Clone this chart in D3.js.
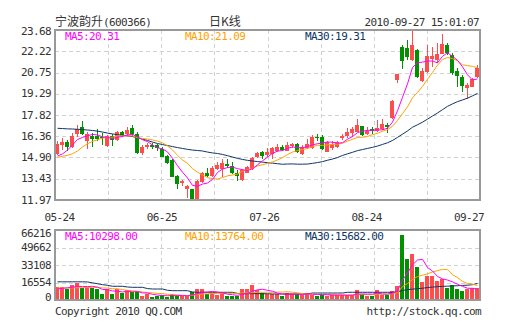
<!DOCTYPE html>
<html>
<head>
<meta charset="utf-8">
<script src="https://cdn.jsdelivr.net/npm/d3@7/dist/d3.min.js"></script>
<style>
  html, body { margin: 0; padding: 0; background: #fff; }
  svg { display: block; }
  text { font-family: "DejaVu Sans Mono", "Liberation Mono", monospace; font-size: 11px; letter-spacing: -0.6px; fill: #333; }
  .cjk { font-family: "Noto Sans CJK SC", sans-serif; font-size: 12px; letter-spacing: 0; }
</style>
</head>
<body>
<svg id="chart" width="505" height="330"></svg>
<script>
// ---- daily K-line data, 宁波韵升 (600366), 2010-05-24 .. 2010-09-27 ----
const opens = [15.14,15.76,15.94,15.64,16.52,17.00,16.00,16.38,16.38,16.34,15.69,16.41,16.07,16.63,16.52,16.93,16.55,15.23,15.59,15.78,
  15.74,15.50,15.00,14.73,13.62,13.12,12.73,12.73,12.04,13.23,13.81,13.64,14.11,14.11,14.43,14.31,13.81,13.35,13.85,14.08,
  14.91,15.26,15.04,15.14,15.35,15.64,15.37,15.71,15.83,15.14,15.53,15.53,16.29,16.29,15.30,15.57,15.60,16.22,16.40,16.61,
  16.67,17.07,16.50,16.86,16.72,16.84,17.14,17.60,20.24,22.53,22.42,21.61,22.30,20.19,20.76,21.68,21.61,22.03,22.65,21.96,
  20.88,20.46,19.66,19.77,20.42];
const highs = [16.03,16.24,16.10,16.61,17.14,17.43,16.62,16.58,16.86,16.56,16.45,16.52,16.69,16.72,17.03,17.17,16.62,15.79,15.90,15.92,
  15.86,15.59,15.10,14.79,13.69,13.35,13.00,12.76,13.35,13.92,14.15,14.31,14.61,14.79,14.79,14.61,14.04,14.11,14.31,14.95,
  15.30,15.35,15.53,15.60,15.81,15.75,15.99,15.92,15.92,15.75,16.15,16.45,16.52,16.45,16.03,16.03,16.05,16.52,16.91,17.02,
  17.55,17.10,17.02,17.02,17.51,17.52,17.25,18.85,20.65,22.65,22.99,23.68,22.35,21.04,22.65,22.53,22.80,23.40,22.77,22.07,
  21.04,20.58,20.01,20.36,21.27];
const lows = [15.07,15.38,15.37,15.53,16.31,16.48,15.45,15.59,16.00,15.76,15.64,15.66,16.03,16.34,16.41,16.38,15.17,15.04,15.45,15.46,
  15.35,14.90,14.48,13.53,12.73,12.96,12.13,11.97,12.00,13.16,13.58,13.58,14.04,13.53,14.15,13.76,13.30,13.30,13.81,14.04,
  14.84,14.79,14.95,14.77,15.30,15.35,15.35,15.53,15.19,15.07,15.50,15.48,16.05,15.41,15.26,15.41,15.53,16.10,16.26,16.33,
  16.63,16.38,16.45,16.50,16.65,16.79,16.61,17.58,20.05,20.97,21.61,21.56,20.35,20.12,20.70,21.15,21.39,22.03,21.96,20.58,
  19.77,19.43,18.93,19.72,20.37];
const closes = [15.86,15.96,15.64,16.38,16.86,16.55,16.52,16.14,16.17,16.22,16.36,16.10,16.63,16.40,16.79,16.54,15.23,15.64,15.75,15.64,
  15.53,14.95,14.54,13.58,13.07,13.28,12.96,12.00,13.28,13.81,13.64,14.19,14.38,14.50,14.31,13.81,13.64,14.04,14.22,14.88,
  15.19,15.02,15.30,15.53,15.64,15.41,15.75,15.81,15.26,15.60,15.83,16.33,16.22,15.46,15.99,15.75,15.99,16.40,16.67,16.86,
  17.14,16.45,16.72,16.72,16.95,17.18,17.02,18.79,20.65,21.56,21.84,22.65,20.42,20.88,21.89,21.88,22.00,22.69,22.08,20.70,
  20.48,19.79,19.92,20.28,21.08];
const volumes = [12010,12010,10120,14190,16360,11070,12010,11070,10120,5680,10120,5680,10120,6340,9000,7280,7280,3780,5390,3120,
  3780,4730,3120,5680,3780,3780,3780,7850,10120,10410,5680,6500,4730,6800,3500,3500,3500,10700,10000,14300,
  9500,6300,5700,5700,5500,4000,6500,5600,5600,4700,6500,5200,4000,5200,4000,4700,4700,4400,4400,4700,
  9700,5400,4000,4000,9700,5000,5000,8800,13500,61500,39000,43700,31300,17000,22800,22300,18100,19700,11400,14650,
  10600,8200,10800,10900,10990];

// moving-average values carried in from the sessions before the first bar
const ma5Lead  = [15.00,15.14,15.41,15.76];
const ma10Lead = [14.91,14.98,15.05,15.15,15.35,15.62,15.85,16.00,16.12];
const ma30Lead = [16.91,16.89,16.87,16.86,16.84,16.82,16.79,16.76,16.71,16.65,16.58,16.52,16.47,16.43,16.39,16.34,16.25,16.17,16.07,15.96,
  15.86,15.79,15.72,15.65,15.58,15.52,15.46,15.41,15.38];
const vma5Lead  = [10500,11000,11500,12000];
const vma10Lead = [11400,11400,11400,11500,11600,11700,11800,11900,12000];
const vma30 = [17200,17200,17200,17200,17200,17200,17100,16200,15400,14500,13900,13000,13000,12960,12300,12000,12000,12000,10800,10400,
  10400,10400,9200,8800,8800,8800,8800,7600,7300,7300,7300,7300,7300,7300,7300,7300,6200,6000,6000,6000,
  6000,6000,5900,5700,5700,5700,5700,5700,5700,5700,5700,6600,6600,6600,6600,6600,6600,6600,7300,7300,
  7300,7300,7300,7300,7300,7300,7300,7300,7800,9000,9800,10300,10700,11100,11800,12200,12600,12900,13100,13300,
  13500,13800,14000,14500,15682];

const tickLabels = ["05-24","06-25","07-26","08-24","09-27"];
const priceTicks = [11.97,13.43,14.90,16.36,17.82,19.29,20.75,22.22,23.68];
const volumeTicks = [0,16554,33108,49662,66216];

const title = "宁波韵升";
const code = "(600366)";
const chartName = "日K线";
const stamp = "2010-09-27 15:01:07";

// ---- helpers ----
function movingAverage(values, n, lead) {
  return values.map((_, i) => i < n - 1 ? lead[i] : d3.mean(values.slice(i - n + 1, i + 1)));
}
const ma5 = movingAverage(closes, 5, ma5Lead);
const ma10 = movingAverage(closes, 10, ma10Lead);
const ma30 = movingAverage(closes, 30, ma30Lead);
const vma5 = movingAverage(volumes, 5, vma5Lead);
const vma10 = movingAverage(volumes, 10, vma10Lead);

const UP = "#ff4d4d", DOWN = "#009000";
const C5 = "#ff00ff", C10 = "#ffa200", C30 = "#0d3566";

const L = 55, R = 480;
const P = { top: 30, bottom: 200 };
const V = { top: 230, bottom: 300 };

const idx = d3.range(closes.length);
const x = d3.scaleBand().domain(idx).range([L, R]).paddingInner(0.2).paddingOuter(0.1).align(0);
const xc = i => x(i) + 2;
const y = d3.scaleLinear().domain([priceTicks[0], priceTicks[priceTicks.length - 1]]).range([P.bottom, P.top]);
const yv = d3.scaleLinear().domain([0, volumeTicks[volumeTicks.length - 1]]).range([V.bottom, V.top]);
const gridX = d3.scaleLinear().domain([0, 8]).range([L, R]);
const labelX = d3.scalePoint().domain(tickLabels).range([59.5, 469]);

const svg = d3.select("#chart");
const defs = svg.append("defs");
defs.append("clipPath").attr("id", "clipP").append("rect")
  .attr("x", L).attr("y", P.top).attr("width", R - L).attr("height", P.bottom - P.top);
defs.append("clipPath").attr("id", "clipV").append("rect")
  .attr("x", L).attr("y", V.top).attr("width", R - L).attr("height", V.bottom - V.top);

// ---- grids ----
function grid(top, bottom, ys) {
  const g = svg.append("g").attr("stroke", "#d2d2d2").attr("stroke-dasharray", "4,3")
    .attr("shape-rendering", "crispEdges");
  d3.range(1, 8).forEach(k => {
    g.append("line").attr("x1", Math.round(gridX(k)) + 0.5).attr("x2", Math.round(gridX(k)) + 0.5)
      .attr("y1", top).attr("y2", bottom);
  });
  ys.forEach(v => {
    g.append("line").attr("x1", L).attr("x2", R)
      .attr("y1", Math.round(v) + 0.5).attr("y2", Math.round(v) + 0.5);
  });
}
grid(P.top, P.bottom, priceTicks.slice(1, -1).map(y));
grid(V.top, V.bottom, volumeTicks.slice(1, -1).map(yv));

// ---- candles ----
const cg = svg.append("g").attr("clip-path", "url(#clipP)").attr("shape-rendering", "crispEdges");
idx.forEach(i => {
  const up = closes[i] >= opens[i];
  const col = up ? UP : DOWN;
  cg.append("rect").attr("x", xc(i)).attr("width", 1)
    .attr("y", y(highs[i])).attr("height", Math.max(1, y(lows[i]) - y(highs[i]))).attr("fill", col);
  const top = y(Math.max(opens[i], closes[i])), bot = y(Math.min(opens[i], closes[i]));
  cg.append("rect").attr("x", x(i)).attr("width", x.bandwidth())
    .attr("y", top).attr("height", Math.max(1, bot - top)).attr("fill", col);
});

// ---- volume bars ----
const vg = svg.append("g").attr("clip-path", "url(#clipV)").attr("shape-rendering", "crispEdges");
vg.selectAll("rect").data(idx).join("rect")
  .attr("x", i => x(i)).attr("width", x.bandwidth())
  .attr("y", i => yv(volumes[i])).attr("height", i => V.bottom - yv(volumes[i]))
  .attr("fill", i => closes[i] >= opens[i] ? UP : DOWN);

// ---- moving-average lines ----
function maLine(values, scale, color, clip) {
  svg.append("path").attr("clip-path", clip)
    .attr("d", d3.line().x((_, i) => xc(i) + 0.5).y(v => scale(v))(values))
    .attr("fill", "none").attr("stroke", color).attr("stroke-width", 1);
}
maLine(ma30, y, C30, "url(#clipP)");
maLine(ma10, y, C10, "url(#clipP)");
maLine(ma5, y, C5, "url(#clipP)");
maLine(vma30, yv, C30, "url(#clipV)");
maLine(vma10, yv, C10, "url(#clipV)");
maLine(vma5, yv, C5, "url(#clipV)");

// ---- frames ----
[[P.top, P.bottom], [V.top, V.bottom]].forEach(([t, b]) => {
  svg.append("rect").attr("x", L).attr("y", t).attr("width", R - L).attr("height", b - t)
    .attr("fill", "none").attr("stroke", "#999").attr("stroke-width", 2).attr("shape-rendering", "crispEdges");
});

// ---- axes labels ----
const axP = svg.append("g");
priceTicks.forEach((v, k) => {
  let cy = y(v);
  if (k === priceTicks.length - 1) cy += 1;
  axP.append("text").attr("x", 51).attr("y", cy).attr("text-anchor", "end")
    .attr("dominant-baseline", "central").text(v.toFixed(2));
});
volumeTicks.forEach((v, k) => {
  let cy = yv(v);
  if (k === volumeTicks.length - 1) cy += 3;
  if (k === 0) cy -= 3;
  axP.append("text").attr("x", 51).attr("y", cy).attr("text-anchor", "end")
    .attr("dominant-baseline", "central").text(String(v));
});
tickLabels.forEach(t => {
  axP.append("text").attr("x", labelX(t)).attr("y", 217).attr("text-anchor", "middle")
    .attr("dominant-baseline", "central").text(t);
});

// ---- header ----
const head = svg.append("text").attr("x", 55).attr("y", 26);
head.append("tspan").attr("class", "cjk").text(title);
head.append("tspan").text(code);
svg.append("text").attr("class", "cjk").attr("x", 225).attr("y", 26).attr("text-anchor", "middle").text(chartName);
svg.append("text").attr("x", 479).attr("y", 26).attr("text-anchor", "end").text(stamp);

// ---- MA legends ----
function legend(cy, items) {
  items.forEach(([label, value, color, lx]) => {
    svg.append("text").attr("x", lx).attr("y", cy).attr("dominant-baseline", "central")
      .style("fill", color).text(label + ":" + value);
  });
}
const last = closes.length - 1;
legend(36.5, [["MA5", ma5[last].toFixed(2), C5, 65], ["MA10", ma10[last].toFixed(2), C10, 185], ["MA30", ma30[last].toFixed(2), C30, 305]]);
legend(236.5, [["MA5", vma5[last].toFixed(2), C5, 65], ["MA10", vma10[last].toFixed(2), C10, 185], ["MA30", vma30[last].toFixed(2), C30, 305]]);

// ---- footer ----
svg.append("text").attr("x", 55).attr("y", 311).attr("dominant-baseline", "central").text("Copyright 2010 QQ.COM");
svg.append("text").attr("x", 481).attr("y", 311).attr("text-anchor", "end").attr("dominant-baseline", "central").text("http://stock.qq.com");
</script>
</body>
</html>
